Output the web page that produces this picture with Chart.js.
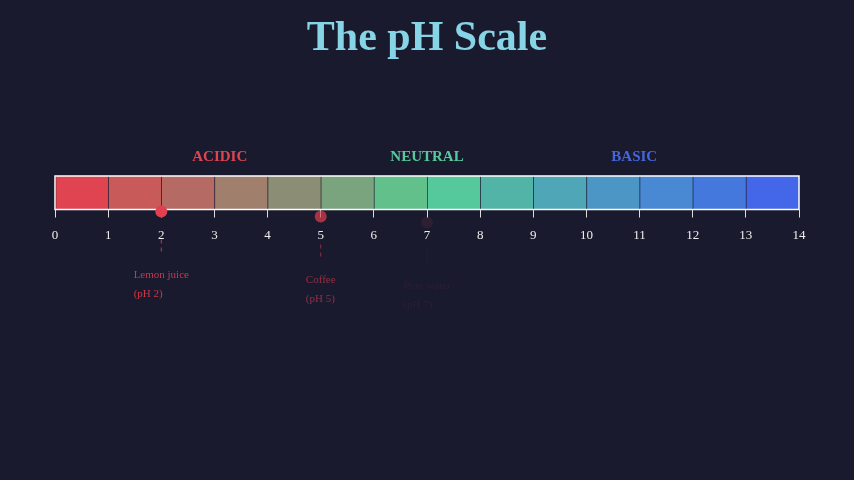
<!DOCTYPE html>
<html>
<head>
<meta charset="utf-8">
<script src="https://cdn.jsdelivr.net/npm/chart.js@4"></script>
<style>
  html, body { margin: 0; padding: 0; background: #1a1a2e; }
  #wrap { position: relative; width: 854px; height: 480px; }
</style>
</head>
<body>
<div id="wrap"><canvas id="phCanvas" width="854" height="480"></canvas></div>
<script>
const ctx = document.getElementById('phCanvas').getContext('2d');

// pH segments (each one unit wide) and colours
const segmentWidths = [1, 1, 1, 1, 1, 1, 1, 1, 1, 1, 1, 1, 1, 1];
const segmentColors = ['#e04450', '#c95a5a', '#b56b64', '#a07f6c', '#8b8e74', '#7aa47e', '#62c08a',
                       '#55c99c', '#52b4a6', '#4fa6b6', '#4c96c6', '#4988d2', '#4578dd', '#4466e8'];

// Region labels
const regionNames = ['ACIDIC', 'NEUTRAL', 'BASIC'];
const regionPos = [3.1, 7, 10.9];
const regionColors = ['#e04450', '#55c99c', '#4466dd'];

// Substance markers (mid-animation opacity)
const markerNames = ['Lemon juice', 'Coffee', 'Pure water'];
const markerPH = [2, 5, 7];
const markerAlpha = [1, 0.7, 0.1];
const markerDrop = [0, 5, 11];

const serif = '"Liberation Serif", "DejaVu Serif", serif';

const decorPlugin = {
    id: 'decor',
    afterDatasetsDraw(chart) {
        const c = chart.ctx;
        const a = chart.chartArea;
        const xs = chart.scales.x;
        c.save();
        // outline of the scale
        c.strokeStyle = '#ffffff';
        c.lineWidth = 1.5;
        c.strokeRect(a.left, a.top, a.right - a.left, a.bottom - a.top);

        // title
        c.fillStyle = '#87d4e6';
        c.font = 'bold 42px ' + serif;
        c.textAlign = 'center';
        c.textBaseline = 'middle';
        c.fillText('The pH Scale', 427, 39);

        // region labels
        c.font = 'bold 15px ' + serif;
        regionNames.forEach((name, i) => {
            c.fillStyle = regionColors[i];
            c.fillText(name, xs.getPixelForValue(regionPos[i]), a.top - 19);
        });

        // markers
        markerNames.forEach((name, i) => {
            const x = xs.getPixelForValue(markerPH[i]);
            const d = markerDrop[i];
            c.globalAlpha = markerAlpha[i];
            c.fillStyle = '#e0404f';
            c.beginPath();
            c.arc(x, a.bottom + 2 + d, 6, 0, Math.PI * 2);
            c.fill();
            c.strokeStyle = '#c8384a';
            c.lineWidth = 1;
            c.setLineDash([4, 4]);
            c.beginPath();
            c.moveTo(x, a.bottom + 30 + d);
            c.lineTo(x, a.bottom + 44 + d);
            c.stroke();
            c.setLineDash([]);
            c.fillStyle = '#c8384a';
            c.font = '11px ' + serif;
            c.textAlign = 'left';
            const left = x - c.measureText(name).width / 2;
            c.fillText(name, left, a.bottom + 66 + d);
            c.fillText('(pH ' + markerPH[i] + ')', left, a.bottom + 85 + d);
        });
        c.restore();
    }
};

const datasets = segmentWidths.map((w, i) => ({
    data: [w],
    backgroundColor: segmentColors[i],
    borderColor: 'rgba(40,40,60,0.35)',
    borderWidth: { left: 1, right: 0, top: 0, bottom: 0 },
    borderSkipped: false,
    barPercentage: 1,
    categoryPercentage: 1
}));

new Chart(ctx, {
    type: 'bar',
    data: { labels: ['pH'], datasets: datasets },
    options: {
        indexAxis: 'y',
        responsive: false,
        animation: false,
        layout: { padding: { left: 55, right: 55, top: 176, bottom: 237 } },
        scales: {
            x: {
                stacked: true,
                min: 0,
                max: 14,
                ticks: { stepSize: 1, color: '#eeeeee', font: { family: serif, size: 13 }, padding: 10 },
                grid: { drawOnChartArea: false, drawTicks: true, tickLength: 8, color: '#dddddd' },
                border: { display: false }
            },
            y: { stacked: true, display: false }
        },
        plugins: { legend: { display: false }, tooltip: { enabled: false } }
    },
    plugins: [decorPlugin]
});
</script>
</body>
</html>
